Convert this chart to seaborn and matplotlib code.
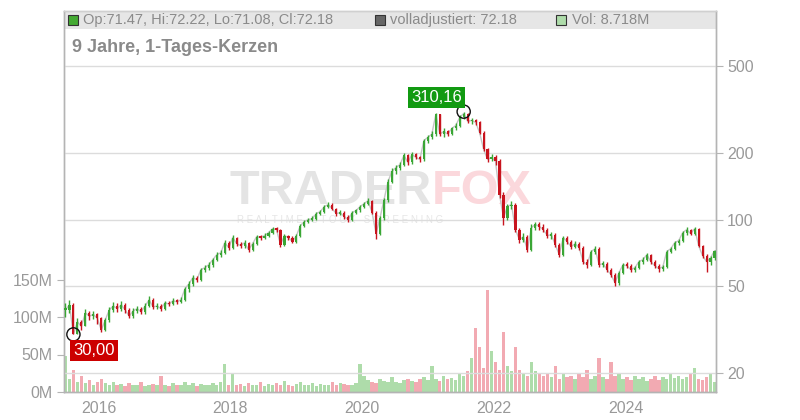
import numpy as np
import pandas as pd
import matplotlib
matplotlib.use("Agg")
import matplotlib.pyplot as plt
from matplotlib.patches import Rectangle
from matplotlib.ticker import NullLocator
import seaborn as sns

# ---- data ----
closes = [38.8, 40.9, 30.0, 34.2, 32.6, 37.6, 36.3, 37.0, 35.5, 31.4,
          34.9, 38.8, 40.4, 39.3, 40.9, 38.8, 36.3, 38.4, 39.3, 38.0,
          40.4, 43.1, 40.0, 40.4, 39.3, 41.8, 41.2, 42.7, 42.2, 43.1,
          48.4, 51.0, 54.4, 53.2, 59.1, 60.4, 62.3, 65.7, 69.2, 70.6,
          78.5, 74.5, 82.8, 77.7, 76.1, 78.5, 72.9, 77.7, 83.6, 82.8,
          84.5, 87.2, 90.9, 90.0, 76.9, 84.5, 82.8, 79.3, 84.5, 93.9,
          97.9, 100.0, 101.0, 106.5, 108.8, 114.6, 117.0, 112.0, 106.5, 107.6,
          103.0, 100.0, 107.6, 110.0, 114.6, 118.3, 122.0, 107.6, 86.3, 102.0,
          123.0, 149.0, 166.0, 172.6, 178.0, 196.0, 182.0, 198.0, 192.0, 188.0,
          229.0, 237.0, 245.0, 301.0, 245.0, 252.0, 245.0, 260.0, 268.0, 292.0,
          304.0, 280.0, 283.0, 277.0, 249.0, 209.0, 188.0, 192.0, 184.0, 130.0,
          102.0, 115.0, 117.0, 90.0, 81.0, 83.6, 72.9, 92.0, 95.0, 93.0,
          90.0, 84.5, 85.4, 76.9, 69.2, 82.8, 79.3, 75.3, 77.7, 74.5,
          64.3, 62.3, 71.5, 73.7, 62.3, 63.0, 59.1, 56.1, 51.5, 57.3,
          62.3, 61.6, 59.1, 60.4, 64.3, 65.7, 69.2, 64.3, 61.6, 59.8,
          60.9, 71.5, 73.7, 78.5, 80.2, 87.2, 90.0, 86.3, 90.9, 76.1,
          68.5, 64.3, 67.0, 72.18]

highs = [41.5, 43.0, 41.5, 35.5, 35.0, 39.0, 38.5, 38.5, 37.5, 36.0,
         35.8, 39.8, 42.0, 41.5, 42.5, 41.5, 39.5, 39.5, 40.5, 40.0,
         41.5, 45.0, 43.8, 41.5, 41.2, 42.8, 42.5, 43.8, 43.5, 44.5,
         49.5, 52.5, 56.0, 55.5, 60.5, 62.0, 64.0, 67.0, 71.0, 72.5,
         80.5, 79.5, 85.0, 83.5, 79.0, 80.5, 79.0, 79.0, 85.5, 85.0,
         86.5, 89.0, 93.0, 92.5, 90.5, 86.0, 85.5, 84.0, 86.0, 95.5,
         99.5, 102.0, 103.5, 108.5, 111.0, 116.5, 120.0, 118.5, 113.0, 110.0,
         109.0, 104.5, 109.0, 112.0, 116.0, 120.5, 125.0, 123.0, 109.0, 104.0,
         126.0, 153.0, 171.0, 178.0, 183.0, 202.0, 198.0, 204.0, 200.0, 194.0,
         234.0, 243.0, 252.0, 305.0, 303.0, 260.0, 256.0, 265.0, 275.0, 298.0,
         310.16, 306.0, 290.0, 288.0, 280.0, 252.0, 212.0, 198.0, 196.0, 188.0,
         133.0, 118.0, 122.0, 119.0, 92.0, 87.0, 85.0, 95.0, 98.0, 97.0,
         95.0, 91.5, 88.0, 87.0, 78.0, 84.5, 84.0, 80.5, 79.5, 79.0,
         76.0, 66.0, 73.0, 75.5, 75.0, 65.0, 64.0, 60.5, 57.0, 58.5,
         63.5, 64.0, 62.5, 61.5, 65.5, 67.5, 70.5, 70.0, 65.5, 62.5,
         62.0, 72.5, 75.0, 80.0, 82.0, 89.0, 93.0, 91.0, 93.0, 91.5,
         77.0, 69.5, 68.5, 73.0]

lows = [36.0, 37.5, 30.0, 30.5, 31.5, 33.0, 35.0, 35.2, 33.5, 30.8,
        31.0, 34.0, 38.0, 38.0, 38.5, 37.5, 35.5, 35.8, 37.5, 37.0,
        37.2, 39.8, 39.2, 39.2, 38.5, 38.8, 40.2, 40.8, 41.2, 41.5,
        42.5, 47.0, 50.0, 51.8, 52.5, 57.5, 59.0, 61.0, 64.5, 67.5,
        69.5, 73.0, 73.5, 76.0, 74.5, 74.5, 71.5, 72.0, 76.5, 80.5,
        81.5, 83.5, 86.0, 88.0, 75.0, 76.0, 81.0, 78.0, 78.5, 83.5,
        92.5, 96.0, 98.5, 99.5, 105.0, 107.0, 113.0, 110.5, 104.0, 104.5,
        101.0, 97.0, 99.0, 106.0, 108.5, 113.0, 117.0, 106.0, 82.0, 85.0,
        100.0, 120.0, 146.0, 162.0, 168.0, 175.0, 178.0, 180.0, 188.0, 183.0,
        185.0, 224.0, 232.0, 240.0, 240.0, 238.0, 240.0, 242.0, 255.0, 264.0,
        288.0, 275.0, 272.0, 270.0, 245.0, 205.0, 183.0, 185.0, 178.0, 126.0,
        94.0, 100.0, 112.0, 88.0, 78.0, 79.0, 71.0, 72.0, 90.0, 90.0,
        88.0, 82.5, 82.0, 75.0, 67.5, 68.5, 77.5, 73.5, 74.0, 73.0,
        63.0, 60.5, 61.5, 70.0, 61.0, 61.0, 58.0, 55.0, 50.0, 50.5,
        56.5, 60.0, 57.5, 58.0, 59.5, 63.0, 64.5, 63.0, 60.0, 58.0,
        58.5, 60.0, 70.5, 72.5, 77.0, 79.0, 85.5, 85.0, 85.0, 75.0,
        67.0, 57.5, 62.0, 65.5]

volumes_m = [48, 18, 30, 14, 22, 12, 16, 10, 14,
             18, 12, 10, 14, 9, 11, 8, 12, 10, 9, 13, 8, 10, 11, 9, 22, 10, 8, 12, 9, 10,
             14, 10, 12, 8, 11, 9, 10, 12, 9, 13, 38, 10, 24, 9, 11, 8, 12, 10, 9, 14,
             8, 11, 10, 12, 9, 15, 10, 8, 11, 13,
             9, 10, 12, 8, 11, 10, 9, 13, 10, 12, 11, 9, 10, 12, 38, 22, 16, 14, 12, 18,
             15, 13, 20, 14, 12, 16, 18, 15, 13, 17,
             20, 16, 35, 18, 15, 22, 17, 19, 16, 24, 21, 28, 45, 85, 60, 32, 136, 55, 40, 30,
             80, 35, 28, 60, 30, 25, 22, 40, 28, 24,
             22, 26, 20, 35, 18, 24, 20, 22, 18, 25, 20, 30, 18, 22, 45, 20, 18, 40, 22, 25,
             18, 20, 16, 22, 18, 20, 15, 18, 22, 16, 20, 18, 25, 19, 22, 18, 20, 24, 32, 18,
             16, 20, 25, 14]

year_ticks = [2016, 2018, 2020, 2022, 2024]
price_ticks = [20, 50, 100, 200, 500]
vol_ticks = [0, 50, 100, 150]
vol_labels = ["0M", "50M", "100M", "150M"]
high_label = "310,16"
low_label = "30,00"
title_text = "9 Jahre, 1-Tages-Kerzen"
legend_texts = ["Op:71.47, Hi:72.22, Lo:71.08, Cl:72.18",
                "volladjustiert: 72.18", "Vol: 8.718M"]

# ---- style ----
sns.set_style("white")
plt.rcParams['font.family'] = ['Liberation Sans', 'DejaVu Sans']

start, end = pd.Timestamp("2015-07-02"), pd.Timestamp("2025-05-05")
dates = pd.date_range(start, end, periods=len(closes))
opens = [closes[0]] + closes[:-1]
df = pd.DataFrame({"date": dates, "open": opens, "close": closes,
                   "high": highs, "low": lows, "vol": volumes_m})
df["up"] = df["close"] >= df["open"]
df["blo"] = df[["open", "close"]].min(axis=1)
df["bhi"] = df[["open", "close"]].max(axis=1)
df["wlo"] = df[["low", "blo"]].min(axis=1)
df["whi"] = df[["high", "bhi"]].max(axis=1)

GREEN, RED = "#3aa635", "#c8141e"
LGREEN, LRED = "#aedcaa", "#f2aab2"
GRID = "#dcdcdc"
TXT = "#999999"

W, H = 800, 420
fig = plt.figure(figsize=(8, 4.2), dpi=100)
L, R, B, T = 64, 716, 392, 11
ax_v = fig.add_axes([L / W, 1 - B / H, (R - L) / W, (B - T) / H])
ax_p = ax_v.twinx()

# legend band
ax_v.add_patch(Rectangle((0, 1 - 18 / (B - T)), 1, 18 / (B - T), transform=ax_v.transAxes,
                         facecolor="#e6e6e6", edgecolor="none", zorder=0))

# watermark
wm_y = 1 - 192 / H
ax_v.text(432 / W, wm_y, "TRADER", transform=fig.transFigure, ha="right", va="center",
          fontsize=35, fontweight="bold", color="#e4e4e4", zorder=0.5)
ax_v.text(432 / W, wm_y, "FOX", transform=fig.transFigure, ha="left", va="center",
          fontsize=35, fontweight="bold", color="#fbd8dc", zorder=0.5)
ax_v.text(340 / W, 1 - 220 / H, "R E A L T I M E   S T O C K   S C R E E N I N G",
          transform=fig.transFigure, ha="center", va="center", fontsize=7,
          color="#e6e6e6", zorder=0.5)

# volume bars
vcols = [LGREEN if u else LRED for u in df["up"]]
ax_v.bar(df["date"], df["vol"], width=19, color=vcols, linewidth=0, zorder=1)
ax_v.set_ylim(0, (B - T) / 37.5 * 50)
ax_v.set_yticks(vol_ticks)
ax_v.set_yticklabels(vol_labels)

# adjusted close line (gray) behind the candles
sns.lineplot(data=df, x="date", y="close", ax=ax_p, color="#c4c4c4", linewidth=1.0,
             zorder=2, legend=False)

# candles: wicks + bodies
ccols = [GREEN if u else RED for u in df["up"]]
ax_p.vlines(df["date"], df["wlo"], df["whi"], colors=ccols, linewidth=1.0, zorder=3)
heights = np.maximum(df["bhi"] - df["blo"], df["bhi"] * 0.015)
ax_p.bar(df["date"], heights, bottom=df["blo"], width=12, color=ccols, linewidth=0, zorder=3)
ax_p.set_yscale("log")
ax_p.set_ylim(16.4, 891)
ax_p.set_yticks(price_ticks)
ax_p.set_yticklabels([str(t) for t in price_ticks])
ax_p.yaxis.set_minor_locator(NullLocator())

# markers for high and low
i_hi = int(np.argmax(highs))
i_lo = int(np.argmin(lows))
pts = pd.DataFrame({"date": [dates[i_hi], dates[i_lo]], "price": [highs[i_hi], lows[i_lo]]})
sns.scatterplot(data=pts, x="date", y="price", ax=ax_p, s=90, facecolors="none",
                edgecolor="#111111", linewidth=1.0, zorder=5, legend=False)
ax_p.annotate(high_label, (dates[i_hi], highs[i_hi]), xytext=(-19.5, 10.5),
              textcoords="offset points", ha="center", va="center", color="white",
              fontsize=12, zorder=6,
              bbox=dict(boxstyle="square,pad=0.18", fc="#119a11", ec="none"))
ax_p.annotate(low_label, (dates[i_lo], lows[i_lo]), xytext=(15, -11.5),
              textcoords="offset points", ha="center", va="center", color="white",
              fontsize=12, zorder=6,
              bbox=dict(boxstyle="square,pad=0.18", fc="#cc0000", ec="none"))

# x axis
ax_p.set_xlim(start - pd.Timedelta(days=8), end + pd.Timedelta(days=8))
xt = [pd.Timestamp(f"{y}-01-01") for y in year_ticks]
ax_p.set_xticks(xt)
ax_v.set_xticks(xt)
ax_v.set_xticklabels([str(y) for y in year_ticks])
ax_p.set_xlabel("")
ax_p.set_ylabel("")

# grid
ax_p.grid(True, axis="both", color=GRID, linewidth=1, zorder=0)
ax_v.grid(False)
ax_p.set_axisbelow(True)

for a in (ax_v, ax_p):
    for s in ("left", "right", "bottom", "top"):
        a.spines[s].set_color("#b4b4b4")
        a.spines[s].set_linewidth(1)
ax_v.spines["top"].set_color("#d0d0d0")
ax_p.spines["top"].set_color("#d0d0d0")

ax_v.tick_params(axis="y", left=True, length=5, color="#b4b4b4", labelcolor=TXT,
                 labelsize=11.5, pad=3)
ax_v.tick_params(axis="x", bottom=False, labelcolor=TXT, labelsize=11.5, pad=3)
ax_p.tick_params(axis="y", right=True, length=5, color="#b4b4b4", labelcolor=TXT,
                 labelsize=11.5, pad=3)
ax_p.tick_params(axis="x", bottom=False, labelbottom=False)

# texts
fig.text(72 / W, 1 - 47 / H, title_text, ha="left", va="center", fontsize=13,
         fontweight="bold", color="#8a8a8a")
sq = [(68, "#44aa33"), (375, "#666666"), (556, "#aedcaa")]
tx = [83, 390, 572]
for (x0, c), t, x1 in zip(sq, legend_texts, tx):
    fig.patches.append(Rectangle((x0 / W, 1 - 25 / H), 10 / W, 10 / H, transform=fig.transFigure,
                                 facecolor=c, edgecolor="#333333", linewidth=0.8, figure=fig))
    fig.text(x1 / W, 1 - 20 / H, t, ha="left", va="center", fontsize=10.5, color="#8a8a8a")

fig.savefig("out.png", dpi=100)
